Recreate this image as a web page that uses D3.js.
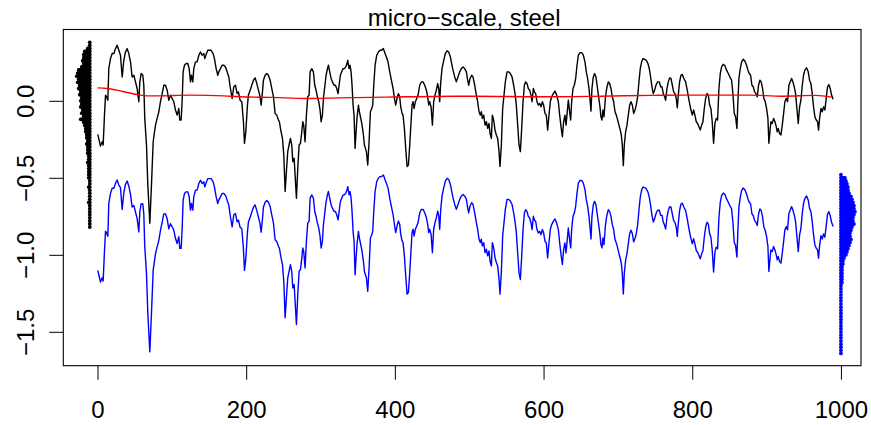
<!DOCTYPE html>
<html>
<head>
<meta charset="utf-8">
<script src="https://cdn.jsdelivr.net/npm/d3@7"></script>
<style>
  body { margin: 0; background: #fff; }
  svg { display: block; font-family: "Liberation Sans", Arial, sans-serif; }
</style>
</head>
<body>
<svg id="chart" width="871" height="425"></svg>
<script>
// profile positions along the scan
const positions = [
  0.4,4.0,6.3,7.6,9.4,10.8,12.1,13.9,15.2,17.5,
  19.7,22.0,24.2,26.4,28.7,30.9,33.2,35.4,37.6,39.9,
  42.1,44.4,46.6,48.9,51.1,53.3,55.6,56.9,58.7,61.0,
  62.3,63.6,65.9,67.7,70.4,72.6,74.9,78.0,80.2,82.5,
  84.7,87.0,89.2,91.4,93.7,95.9,98.2,100.4,102.6,104.9,
  107.1,109.4,110.7,112.5,113.8,115.2,117.0,119.2,121.5,123.3,
  125.1,126.4,128.2,129.5,131.8,134.0,136.3,138.5,140.7,143.0,
  144.3,146.6,148.4,150.6,152.8,155.5,157.3,159.6,161.8,163.1,
  165.4,167.6,169.9,172.1,174.4,176.6,178.8,181.1,183.3,185.6,
  187.8,
  189.6,191.8,194.1,196.3,197.7,199.5,201.7,203.0,205.3,207.5,
  209.8,212.0,214.3,216.5,218.7,220.1,221.9,223.2,225.5,227.7,
  229.9,232.2,234.4,236.7,238.9,241.1,243.4,244.7,246.5,248.8,
  250.6,252.4,254.1,255.9,257.7,259.5,261.3,262.7,264.5,265.8,
  267.6,269.4,271.2,273.0,274.8,276.1,277.4,279.2,281.0,282.8,
  284.6,286.0,288.2,290.4,292.2,294.0,295.8,297.6,299.4,300.8,
  302.5,303.9,305.7,307.5,309.3,310.6,312.4,314.2,316.0,318.2,
  320.0,321.8,323.6,325.0,326.7,328.5,330.3,332.1,333.9,335.7,
  336.6,338.4,339.7,341.1,342.4,343.8,345.1,346.5,347.8,349.2,
  351.0,352.3,354.1,355.9,357.7,359.0,360.4,361.7,363.5,365.3,
  367.1,368.9,370.2,371.6,373.4,375.6,377.8,380.1,382.3,384.6,
  386.8,
  388.6,390.8,393.1,395.3,397.6,399.8,401.1,402.9,404.7,406.5,
  407.9,409.7,411.0,412.8,414.6,416.4,418.2,420.0,421.8,423.1,
  424.5,425.8,427.6,429.4,431.2,433.4,435.7,437.9,440.2,442.4,
  444.2,445.5,446.9,448.7,450.5,452.2,454.0,455.8,457.6,459.0,
  460.3,461.7,463.4,465.7,467.9,470.2,472.4,474.7,476.4,478.2,
  480.5,482.7,484.9,487.2,489.4,491.7,493.9,496.2,497.5,499.3,
  501.1,503.3,505.1,507.4,509.6,511.4,513.2,515.0,516.3,517.7,
  519.5,521.3,523.1,524.9,526.6,528.0,529.8,531.1,532.9,534.7,
  536.5,538.3,540.1,541.4,543.2,545.0,546.8,548.6,550.9,553.1,
  555.3,557.6,559.8,561.6,563.4,565.2,567.0,568.8,570.6,572.4,
  574.2,575.9,577.7,579.5,581.3,583.1,584.5,586.3,
  587.6,589.4,591.2,593.0,594.8,596.6,598.4,600.1,601.9,603.7,
  605.5,607.3,609.1,610.9,613.1,615.4,617.6,619.9,621.7,623.5,
  625.3,627.0,628.8,630.2,631.5,633.3,635.1,636.5,637.8,639.6,
  641.4,643.2,645.0,646.8,649.0,651.2,653.5,655.7,657.5,659.3,
  661.1,662.4,663.8,665.1,666.9,668.7,670.5,672.3,674.1,675.9,
  677.2,678.6,679.9,681.3,683.1,684.9,687.1,688.9,690.7,692.5,
  694.3,696.1,697.9,699.7,701.4,703.2,704.6,705.9,707.3,708.6,
  710.4,712.2,714.0,715.8,717.6,719.4,721.2,723.0,724.7,726.5,
  728.3,730.1,731.9,733.7,735.9,738.2,740.4,742.2,744.0,745.8,
  747.6,749.4,751.2,753.4,755.7,757.5,759.3,761.1,762.9,764.2,
  766.0,767.8,769.6,771.4,773.2,775.0,776.7,778.5,779.9,781.2,
  783.0,784.8,
  786.6,788.8,791.1,793.3,795.6,797.8,800.1,801.8,803.6,805.4,
  807.2,809.0,810.8,812.6,814.4,816.2,818.0,819.8,821.6,823.4,
  825.1,826.9,828.7,830.5,832.3,834.1,835.9,837.7,839.5,841.7,
  844.0,846.2,848.5,850.7,852.9,854.7,856.5,858.3,860.1,861.4,
  862.8,864.6,866.4,868.6,870.9,873.1,874.9,876.7,878.5,880.3,
  882.1,883.9,885.7,887.4,889.2,891.0,892.8,894.6,896.4,898.2,
  900.0,901.8,903.1,904.5,905.8,907.6,909.4,911.2,913.0,914.3,
  915.7,917.5,919.3,921.1,922.9,924.6,926.4,928.2,930.0,931.8,
  933.6,935.4,937.2,939.0,940.8,942.6,944.4,946.2,948.0,949.7,
  951.5,953.8,956.0,957.8,959.6,961.4,963.2,965.0,966.8,968.6,
  969.9,971.3,973.1,974.8,976.6,978.4,980.2,982.0,983.8,985.6,
  987.4,989.5
]

// raw profile (black)
const profile = [
  -0.218,-0.294,-0.266,-0.287,-0.093,0.037,0.026,0.004,0.209,0.274,
  0.307,0.307,0.339,0.361,0.328,0.296,0.155,0.263,0.317,0.339,
  0.307,0.253,0.155,0.166,0.123,0.080,-0.006,0.123,0.177,0.166,
  0.101,-0.114,-0.287,-0.546,-0.795,-0.546,-0.266,-0.158,-0.114,-0.071,
  -0.006,0.047,0.101,0.101,0.069,0.004,0.037,0.015,-0.006,-0.060,
  -0.093,-0.050,-0.125,-0.125,-0.006,0.188,0.231,0.242,0.242,0.209,
  0.123,0.166,0.123,0.209,0.253,0.253,0.296,0.317,0.296,0.307,
  0.274,0.307,0.328,0.328,0.328,0.307,0.274,0.209,0.166,0.188,
  0.209,0.231,0.231,0.220,0.188,0.155,0.080,0.015,0.091,0.101,
  0.047,
  0.058,0.004,-0.006,-0.136,-0.276,-0.201,-0.028,0.037,0.069,0.101,
  0.134,0.149,0.112,0.069,0.026,-0.028,0.058,0.134,0.166,0.177,
  0.166,0.134,0.080,0.026,-0.082,-0.093,-0.125,-0.136,-0.190,-0.244,
  -0.352,-0.589,-0.460,-0.330,-0.287,-0.244,-0.287,-0.395,-0.373,-0.481,
  -0.633,-0.438,-0.287,-0.276,-0.201,-0.136,-0.158,-0.266,-0.093,0.026,
  0.037,0.188,0.209,0.188,0.101,0.069,0.026,-0.006,-0.060,-0.136,
  -0.093,0.015,0.091,0.166,0.209,0.231,0.188,0.145,0.123,0.101,
  0.101,0.080,0.047,0.101,0.166,0.188,0.209,0.209,0.220,0.242,
  0.263,0.209,0.231,0.188,0.101,-0.028,-0.093,-0.309,-0.201,-0.104,
  -0.028,-0.071,-0.114,-0.158,-0.222,-0.287,-0.309,-0.330,-0.417,-0.266,
  -0.071,-0.050,-0.028,0.101,0.231,0.296,0.317,0.328,0.328,0.339,
  0.307,
  0.285,0.253,0.188,0.134,0.080,0.004,-0.028,0.015,0.047,0.026,
  -0.039,-0.082,-0.093,-0.179,-0.309,-0.427,-0.417,-0.287,-0.136,-0.028,
  -0.006,-0.050,-0.006,0.015,0.037,0.101,0.123,0.123,0.101,0.069,
  0.026,-0.028,-0.006,-0.039,-0.158,-0.006,0.037,0.069,0.112,0.080,
  -0.006,0.123,0.209,0.263,0.307,0.324,0.317,0.285,0.242,0.199,
  0.155,0.123,0.155,0.188,0.209,0.220,0.209,0.188,0.145,0.101,
  0.145,0.166,0.155,0.101,0.037,-0.006,-0.071,-0.093,-0.071,-0.114,
  -0.093,-0.158,-0.136,-0.179,-0.147,-0.212,-0.244,-0.093,-0.125,-0.190,
  -0.222,-0.244,-0.330,-0.427,-0.287,-0.050,0.037,0.123,0.188,0.188,
  0.177,0.155,0.101,0.047,-0.028,-0.158,-0.287,-0.330,-0.179,-0.006,
  0.101,0.123,0.112,0.080,0.069,0.037,-0.006,0.080,
  0.058,0.047,-0.006,-0.028,-0.017,-0.039,-0.006,-0.028,-0.082,-0.093,
  -0.190,-0.093,-0.006,0.026,0.047,0.063,0.037,-0.006,-0.093,-0.168,
  -0.233,-0.136,-0.093,-0.158,-0.093,0.004,-0.071,-0.125,-0.006,0.080,
  0.101,0.145,0.231,0.296,0.313,0.313,0.296,0.253,0.188,0.145,
  0.080,0.015,-0.067,0.080,0.155,0.177,0.155,0.091,0.026,-0.039,
  -0.104,-0.125,-0.060,-0.104,0.015,0.080,0.123,0.112,0.080,0.026,
  -0.006,-0.071,-0.093,-0.125,-0.158,-0.190,-0.222,-0.287,-0.421,-0.287,
  -0.201,-0.158,-0.093,-0.028,-0.006,-0.028,-0.082,-0.060,-0.028,0.026,
  0.123,0.209,0.253,0.274,0.270,0.263,0.242,0.209,0.155,0.091,
  0.047,0.069,0.101,0.123,0.123,0.091,0.091,0.047,0.026,0.004,
  0.080,0.123,0.149,0.145,0.101,0.058,0.047,0.015,-0.045,0.037,
  0.123,0.166,
  0.171,0.145,0.123,0.069,0.004,-0.050,-0.093,-0.060,-0.093,-0.136,
  -0.147,-0.168,-0.190,-0.158,-0.136,-0.050,0.015,0.047,0.037,-0.028,
  -0.050,-0.136,-0.276,-0.147,-0.114,-0.125,0.080,0.177,0.220,0.237,
  0.227,0.199,0.177,0.155,0.134,0.047,-0.082,-0.104,-0.179,-0.006,
  0.145,0.209,0.253,0.270,0.257,0.231,0.199,0.177,0.166,0.101,
  0.091,0.058,0.047,0.026,0.101,0.134,0.123,0.080,0.015,-0.006,
  -0.050,-0.114,-0.276,-0.201,-0.136,-0.147,-0.114,-0.136,-0.168,-0.201,
  -0.179,-0.212,-0.222,-0.158,-0.082,-0.006,0.015,-0.006,0.101,0.123,
  0.145,0.123,0.091,0.047,-0.050,-0.147,-0.039,0.004,0.101,0.166,
  0.199,0.214,0.188,0.134,0.112,0.047,-0.039,-0.104,-0.125,-0.136,
  -0.190,-0.114,-0.050,-0.071,-0.039,-0.060,0.015,0.091,0.106,0.080,
  0.037,0.010
]

// detrended and shifted profile (blue)
const detrended = [
  -1.101,-1.177,-1.149,-1.170,-0.976,-0.846,-0.857,-0.879,-0.666,-0.601,
  -0.568,-0.568,-0.536,-0.514,-0.547,-0.564,-0.705,-0.597,-0.543,-0.521,
  -0.553,-0.607,-0.690,-0.679,-0.722,-0.765,-0.851,-0.722,-0.668,-0.669,
  -0.734,-0.949,-1.122,-1.381,-1.630,-1.381,-1.101,-0.993,-0.949,-0.906,
  -0.841,-0.788,-0.734,-0.734,-0.766,-0.831,-0.798,-0.818,-0.839,-0.893,
  -0.926,-0.883,-0.958,-0.958,-0.839,-0.645,-0.602,-0.591,-0.591,-0.624,
  -0.710,-0.667,-0.710,-0.624,-0.580,-0.580,-0.537,-0.516,-0.537,-0.526,
  -0.559,-0.526,-0.505,-0.505,-0.505,-0.526,-0.559,-0.624,-0.667,-0.645,
  -0.624,-0.602,-0.602,-0.613,-0.645,-0.678,-0.753,-0.818,-0.742,-0.732,
  -0.786,
  -0.775,-0.821,-0.831,-0.961,-1.101,-1.026,-0.853,-0.788,-0.756,-0.724,
  -0.691,-0.676,-0.713,-0.756,-0.799,-0.853,-0.767,-0.691,-0.659,-0.648,
  -0.659,-0.686,-0.740,-0.794,-0.902,-0.913,-0.945,-0.956,-1.010,-1.064,
  -1.172,-1.409,-1.280,-1.150,-1.107,-1.064,-1.107,-1.215,-1.193,-1.301,
  -1.453,-1.258,-1.107,-1.096,-1.021,-0.956,-0.978,-1.086,-0.913,-0.794,
  -0.783,-0.632,-0.611,-0.632,-0.719,-0.751,-0.794,-0.826,-0.880,-0.956,
  -0.913,-0.805,-0.729,-0.654,-0.611,-0.589,-0.632,-0.675,-0.697,-0.719,
  -0.719,-0.740,-0.773,-0.719,-0.654,-0.632,-0.611,-0.611,-0.600,-0.578,
  -0.557,-0.611,-0.589,-0.632,-0.719,-0.848,-0.913,-1.129,-1.021,-0.924,
  -0.848,-0.891,-0.934,-0.978,-1.042,-1.107,-1.129,-1.150,-1.237,-1.086,
  -0.891,-0.870,-0.848,-0.719,-0.589,-0.524,-0.503,-0.492,-0.492,-0.481,
  -0.513,
  -0.535,-0.567,-0.632,-0.686,-0.740,-0.816,-0.856,-0.813,-0.781,-0.802,
  -0.867,-0.910,-0.921,-1.007,-1.137,-1.255,-1.245,-1.115,-0.964,-0.856,
  -0.834,-0.878,-0.834,-0.813,-0.791,-0.727,-0.705,-0.705,-0.727,-0.759,
  -0.802,-0.856,-0.834,-0.867,-0.986,-0.834,-0.791,-0.759,-0.716,-0.748,
  -0.834,-0.705,-0.619,-0.565,-0.521,-0.504,-0.511,-0.543,-0.586,-0.629,
  -0.673,-0.705,-0.673,-0.640,-0.619,-0.608,-0.619,-0.640,-0.683,-0.727,
  -0.683,-0.662,-0.673,-0.727,-0.791,-0.834,-0.899,-0.921,-0.899,-0.942,
  -0.921,-0.986,-0.964,-1.007,-0.975,-1.040,-1.072,-0.921,-0.953,-1.018,
  -1.050,-1.072,-1.158,-1.255,-1.115,-0.878,-0.791,-0.705,-0.640,-0.640,
  -0.651,-0.673,-0.727,-0.783,-0.858,-0.988,-1.117,-1.160,-1.009,-0.836,
  -0.729,-0.707,-0.718,-0.750,-0.761,-0.793,-0.836,-0.750,
  -0.772,-0.783,-0.836,-0.858,-0.847,-0.869,-0.836,-0.858,-0.912,-0.923,
  -1.020,-0.923,-0.836,-0.804,-0.783,-0.767,-0.793,-0.836,-0.923,-0.998,
  -1.063,-0.966,-0.923,-0.988,-0.923,-0.826,-0.901,-0.955,-0.836,-0.750,
  -0.729,-0.685,-0.599,-0.534,-0.517,-0.517,-0.534,-0.577,-0.642,-0.685,
  -0.750,-0.815,-0.897,-0.750,-0.675,-0.653,-0.675,-0.739,-0.804,-0.869,
  -0.934,-0.955,-0.890,-0.934,-0.815,-0.750,-0.707,-0.718,-0.750,-0.804,
  -0.836,-0.901,-0.923,-0.955,-0.992,-1.024,-1.056,-1.121,-1.255,-1.121,
  -1.035,-0.992,-0.927,-0.862,-0.840,-0.862,-0.916,-0.894,-0.862,-0.808,
  -0.711,-0.625,-0.581,-0.560,-0.564,-0.571,-0.592,-0.625,-0.679,-0.743,
  -0.787,-0.765,-0.733,-0.711,-0.711,-0.743,-0.743,-0.789,-0.810,-0.832,
  -0.756,-0.713,-0.687,-0.691,-0.735,-0.778,-0.789,-0.821,-0.881,-0.799,
  -0.713,-0.670,
  -0.665,-0.691,-0.713,-0.767,-0.832,-0.886,-0.929,-0.896,-0.929,-0.972,
  -0.983,-1.004,-1.026,-0.994,-0.972,-0.886,-0.821,-0.789,-0.799,-0.864,
  -0.886,-0.972,-1.112,-0.983,-0.950,-0.961,-0.756,-0.659,-0.616,-0.599,
  -0.609,-0.637,-0.659,-0.681,-0.702,-0.789,-0.918,-0.940,-1.015,-0.842,
  -0.691,-0.627,-0.583,-0.566,-0.579,-0.605,-0.637,-0.659,-0.670,-0.735,
  -0.745,-0.778,-0.789,-0.810,-0.735,-0.702,-0.713,-0.756,-0.821,-0.842,
  -0.882,-0.946,-1.108,-1.033,-0.968,-0.979,-0.946,-0.968,-1.000,-1.033,
  -1.011,-1.044,-1.054,-0.990,-0.914,-0.838,-0.817,-0.838,-0.731,-0.709,
  -0.687,-0.709,-0.741,-0.785,-0.882,-0.979,-0.871,-0.828,-0.731,-0.666,
  -0.633,-0.618,-0.644,-0.698,-0.720,-0.785,-0.871,-0.936,-0.957,-0.968,
  -1.022,-0.940,-0.876,-0.897,-0.865,-0.886,-0.811,-0.735,-0.720,-0.746,
  -0.789,-0.816
]

// smooth trend (red)
const trendX = [0,13,26,40,53,67,80,125,170,192,235,280,325,389,480,510,590,677,745,790,831,876,921,966,988]
const trendY = [0.084,0.080,0.069,0.054,0.041,0.032,0.032,0.037,0.032,0.026,0.022,0.015,0.019,0.024,0.030,0.030,0.026,0.030,0.035,0.037,0.037,0.037,0.030,0.035,0.024]

// stacked value distributions at the sides (levels and dot counts)
const leftLevels = [
  0.38,0.36,0.34,0.32,0.30,0.28,0.26,0.24,0.22,0.20,
  0.18,0.16,0.14,0.12,0.10,0.08,0.06,0.04,0.02,0.00,
  -0.02,-0.04,-0.06,-0.08,-0.10,-0.12,-0.14,-0.16,-0.18,-0.20,
  -0.22,-0.24,-0.26,-0.28,-0.30,-0.32,-0.34,-0.36,-0.38,-0.40,
  -0.42,-0.44,-0.46,-0.48,-0.50,-0.52,-0.54,-0.56,-0.58,-0.60,
  -0.62,-0.64,-0.66,-0.68,-0.70,-0.72,-0.74,-0.76,-0.78,-0.80,
  -0.82
]
const leftCounts = [
  1,1,3,6,7,7,8,7,9,12,
  13,14,12,13,11,12,10,11,9,10,
  9,10,8,9,7,10,7,6,5,5,
  4,4,3,4,3,3,3,2,2,3,
  2,2,2,2,2,1,1,2,1,1,
  1,1,2,1,1,1,1,1,1,1,
  1
]
const rightLevels = [
  -0.48,-0.50,-0.52,-0.54,-0.56,-0.58,-0.60,-0.62,-0.64,-0.66,
  -0.68,-0.70,-0.72,-0.74,-0.76,-0.78,-0.80,-0.82,-0.84,-0.86,
  -0.88,-0.90,-0.92,-0.94,-0.96,-0.98,-1.00,-1.02,-1.04,-1.06,
  -1.08,-1.10,-1.12,-1.14,-1.16,-1.18,-1.20,-1.22,-1.24,-1.26,
  -1.28,-1.30,-1.32,-1.34,-1.36,-1.38,-1.40,-1.42,-1.44,-1.46,
  -1.48,-1.50,-1.52,-1.54,-1.56,-1.58,-1.60,-1.62,-1.64
]
const rightCounts = [
  1,5,6,7,8,8,9,11,12,13,
  14,14,15,14,13,13,14,12,11,10,
  10,11,10,9,8,7,6,4,3,3,
  2,2,2,2,2,2,1,1,1,1,
  1,1,1,1,1,1,1,1,1,1,
  1,1,1,1,1,1,1,1,1
]

const xTicks = [0, 200, 400, 600, 800, 1000]
const yTicks = [0, -0.5, -1, -1.5]
const title = 'micro\u2212scale, steel'

function drawChart() {
	const svg = d3.select('#chart')
	const font = '"Liberation Sans", Arial, sans-serif'

	const x = d3.scaleLinear().domain([-46, 1027]).range([63.3, 861])
	const y = d3.scaleLinear().domain([0.463, -1.72]).range([29.5, 365.7])

	const [left, right] = x.range()
	const [top, bottom] = y.range()

	// axes
	const xAxis = svg
		.append('g')
		.attr('transform', `translate(0,${bottom})`)
		.call(d3.axisBottom(x).tickValues(xTicks).tickSize(14).tickPadding(21.3).tickFormat(d3.format('d')))
	xAxis.select('.domain').remove()
	xAxis.selectAll('line').attr('stroke', '#000').attr('stroke-width', 1)
	xAxis.selectAll('text').attr('font-size', 24).attr('font-family', font).attr('fill', '#000')

	const yAxis = svg
		.append('g')
		.attr('transform', `translate(${left},0)`)
		.call(d3.axisLeft(y).tickValues(yTicks).tickSize(14).tickFormat(d3.format('.1f')))
	yAxis.select('.domain').remove()
	yAxis.selectAll('line').attr('stroke', '#000').attr('stroke-width', 1)
	yAxis
		.selectAll('text')
		.attr('transform', 'rotate(-90)')
		.attr('x', 0)
		.attr('y', -29.5)
		.attr('dy', 0)
		.attr('text-anchor', 'middle')
		.attr('font-size', 24)
		.attr('font-family', font)
		.attr('fill', '#000')

	// box
	svg
		.append('rect')
		.attr('x', left)
		.attr('y', top)
		.attr('width', right - left)
		.attr('height', bottom - top)
		.attr('fill', 'none')
		.attr('stroke', '#000')
		.attr('stroke-width', 1.1)

	// title
	svg
		.append('text')
		.attr('x', (left + right) / 2 + 2)
		.attr('y', 26)
		.attr('text-anchor', 'middle')
		.attr('font-size', 24)
		.attr('font-family', font)
		.text(title)

	const plot = svg.append('g')

	const line = (ys) =>
		d3
			.line()
			.x((d, i) => x(positions[i]))
			.y((d) => y(d))(ys)

	plot
		.append('path')
		.attr('d', line(profile))
		.attr('fill', 'none')
		.attr('stroke', '#000')
		.attr('stroke-width', 1.4)
		.attr('stroke-linejoin', 'round')

	plot
		.append('path')
		.attr('d', line(detrended))
		.attr('fill', 'none')
		.attr('stroke', '#0000ff')
		.attr('stroke-width', 1.4)
		.attr('stroke-linejoin', 'round')

	const trendLine = d3
		.line()
		.x((d, i) => x(trendX[i]))
		.y((d) => y(d))
		.curve(d3.curveMonotoneX)

	plot
		.append('path')
		.attr('d', trendLine(trendY))
		.attr('fill', 'none')
		.attr('stroke', '#ff0000')
		.attr('stroke-width', 1.4)

	// stacked dots: one column at the given position, rows pushed outward
	function strip(levels, counts, at, dir, color) {
		const dots = []
		levels.forEach((v, i) => {
			for (let k = 0; k < counts[i]; k++) dots.push([x(at) + dir * k, y(v)])
		})
		plot
			.append('g')
			.selectAll('circle')
			.data(dots)
			.enter()
			.append('circle')
			.attr('cx', (d) => d[0])
			.attr('cy', (d) => d[1])
			.attr('r', 1.9)
			.attr('fill', color)
	}

	strip(leftLevels, leftCounts, -10.4, -1, '#000')
	strip(rightLevels, rightCounts, 1000, 1, '#0000ff')
}

drawChart()
</script>
</body>
</html>
